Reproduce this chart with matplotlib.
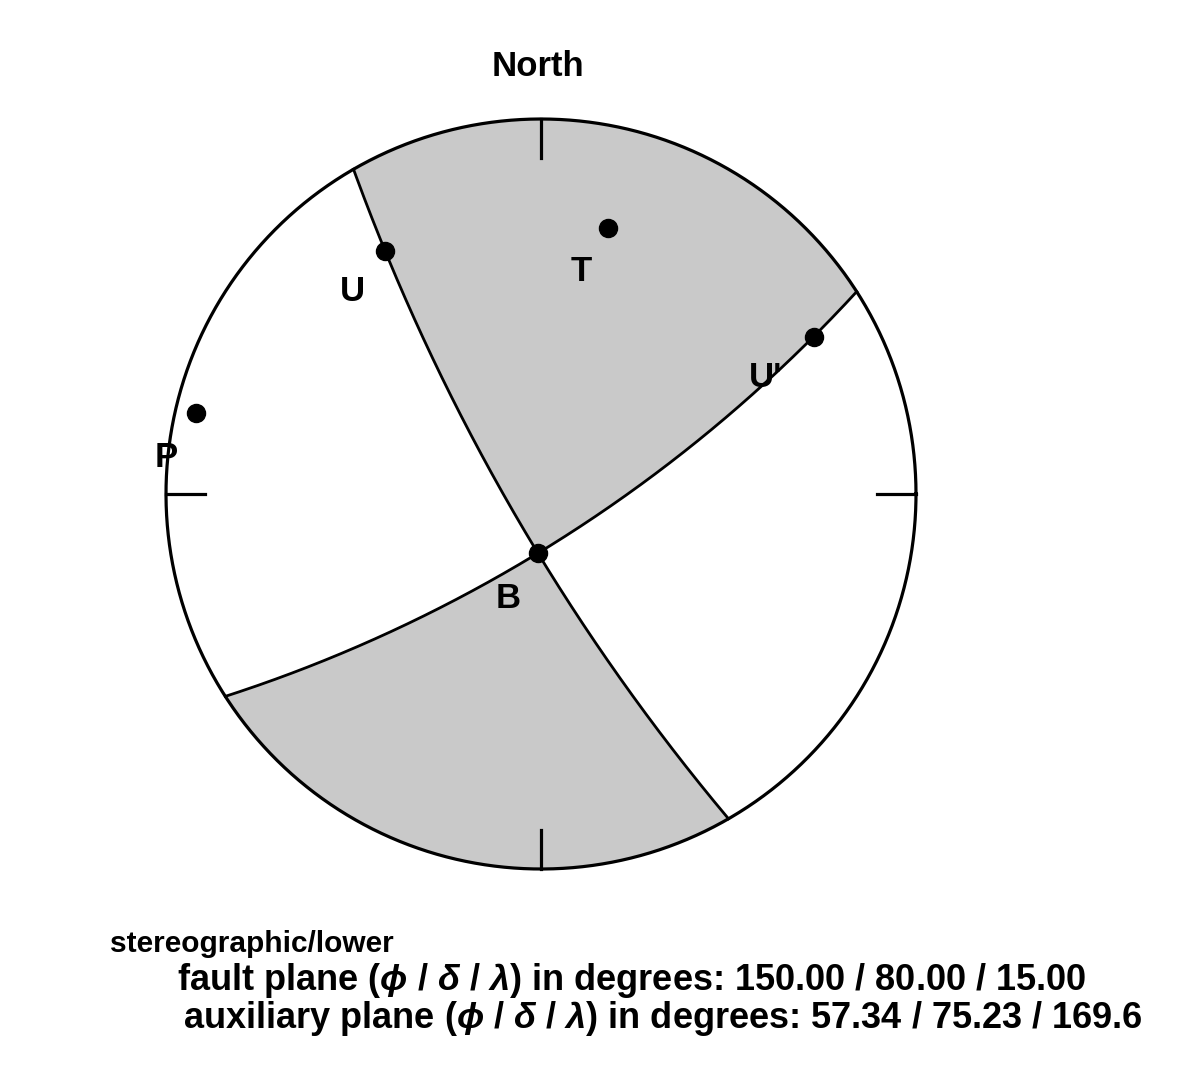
import numpy as np
import matplotlib
matplotlib.use("Agg")
import matplotlib.pyplot as plt

plt.rcParams['font.family'] = ['Liberation Sans', 'DejaVu Sans']
plt.rcParams['font.weight'] = 'bold'
plt.rcParams['mathtext.fontset'] = 'custom'
plt.rcParams['mathtext.rm'] = 'Liberation Sans:bold'
plt.rcParams['mathtext.it'] = 'Liberation Sans:italic:bold'

# focal mechanism (strike / dip / rake, degrees)
plane_names = ["fault", "auxiliary"]
strikes = [150.00, 57.34]
dips = [80.00, 75.23]
rakes = [15.00, 169.6]
rake_labels = ["15.00", "169.6"]

axis_labels = ["P", "T", "U", "U'", "B"]
label_shift = [(-30, 44), (-27, 43), (-33, 41), (-48, 41), (-30, 45)]  # pixels

gray = "#C9C9C9"


def vec_to_xy(v):
    # lower hemisphere stereographic projection of (N, E, Down) vectors
    v = np.asarray(v, dtype=float)
    v = np.where(v[..., 2:3] < 0, -v, v)
    trend = np.arctan2(v[..., 1], v[..., 0])
    plunge = np.arcsin(np.clip(v[..., 2] / np.linalg.norm(v, axis=-1), -1, 1))
    r = np.tan((np.pi / 2 - plunge) / 2)
    return r * np.sin(trend), r * np.cos(trend)


def great_circle(strike, dip):
    s, d = np.radians(strike), np.radians(dip)
    a = np.linspace(0, np.pi, 400)[:, None]
    sv = np.array([np.cos(s), np.sin(s), 0.0])
    dv = np.array([np.cos(d) * np.cos(s + np.pi / 2), np.cos(d) * np.sin(s + np.pi / 2), np.sin(d)])
    return vec_to_xy(np.cos(a) * sv + np.sin(a) * dv)


# normal and slip of the fault plane
s, d, l = np.radians(strikes[0]), np.radians(dips[0]), np.radians(rakes[0])
n = np.array([-np.sin(d) * np.sin(s), np.sin(d) * np.cos(s), -np.cos(d)])
u = np.array([np.cos(l) * np.cos(s) + np.cos(d) * np.sin(l) * np.sin(s),
              np.cos(l) * np.sin(s) - np.cos(d) * np.sin(l) * np.cos(s),
              -np.sin(l) * np.sin(d)])
axes_vec = [(n - u) / np.sqrt(2), (n + u) / np.sqrt(2), u, n, np.cross(n, u)]

W, H, R = 1179, 1080, 375.0
cx, cy = 541, 494
fig = plt.figure(figsize=(W / 100, H / 100), dpi=100)
ax = fig.add_axes([0, 0, 1, 1])
ax.set_xlim(-cx / R, (W - cx) / R)
ax.set_ylim((cy - H) / R, cy / R)
ax.axis('off')

# shading of compressional quadrants
g = np.linspace(-1.01, 1.01, 900)
X, Y = np.meshgrid(g, g)
rr = np.hypot(X, Y)
th = 2 * np.arctan(rr)
tr = np.arctan2(X, Y)
dirs = np.stack([np.sin(th) * np.cos(tr), np.sin(th) * np.sin(tr), np.cos(th)], axis=-1)
pol = (dirs @ n) * (dirs @ u)
pol = np.where(rr <= 1.0, pol, np.nan)
ax.contourf(X, Y, pol, levels=[0, 10], colors=[gray], antialiased=True)

# outline and ticks
t = np.linspace(0, 2 * np.pi, 720)
ax.plot(np.cos(t), np.sin(t), color='black', lw=2.3)
for az in np.radians([0, 90, 180, 270]):
    ax.plot([np.sin(az), 0.896 * np.sin(az)], [np.cos(az), 0.896 * np.cos(az)], color='black', lw=2.3)

for st, dp in zip(strikes, dips):
    x, y = great_circle(st, dp)
    ax.plot(x, y, color='black', lw=2.0)

for lab, v, (ox, oy) in zip(axis_labels, axes_vec, label_shift):
    x, y = vec_to_xy(v)
    ax.plot(x, y, 'o', color='black', ms=13)
    ax.text(x + ox / R, y - oy / R, lab, fontsize=25, fontweight='bold', ha='center', va='center')

ax.text(-3 / R, (cy - 76) / R, "North", fontsize=25, fontweight='bold', ha='center', va='baseline')

ax.text((110 - cx) / R, (cy - 952) / R, "stereographic/lower", fontsize=21.5, fontweight='bold',
        ha='left', va='baseline')
rows = [(177, 990), (183, 1028)]
for name, st, dp, rk, (px, py) in zip(plane_names, strikes, dips, rake_labels, rows):
    txt = (name + r" plane ($\phi$ / $\delta$ / $\lambda$) in degrees: "
           + "%.2f / %.2f / %s" % (st, dp, rk))
    ax.text((px - cx) / R, (cy - py) / R, txt, fontsize=26, fontweight='bold', ha='left', va='baseline')

fig.savefig("out.png", dpi=100, facecolor='white')
